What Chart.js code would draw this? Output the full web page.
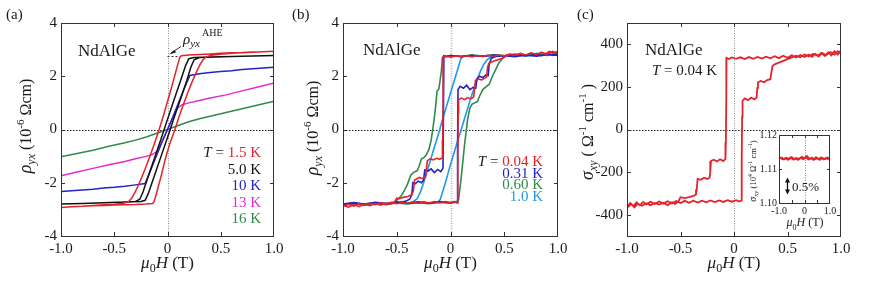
<!DOCTYPE html>
<html>
<head>
<meta charset="utf-8">
<script src="https://cdn.jsdelivr.net/npm/chart.js@4.4.1/dist/chart.umd.min.js"></script>
<style>
  html, body { margin: 0; padding: 0; background: #fff; }
  #wrap { position: relative; width: 872px; height: 287px; overflow: hidden; }
  canvas { position: absolute; top: 0; }
</style>
</head>
<body>
<div id="wrap">
  <canvas id="ca" width="288" height="287" style="left:0"></canvas>
  <canvas id="cb" width="287" height="287" style="left:288px"></canvas>
  <canvas id="cc" width="297" height="287" style="left:575px"></canvas>
  <canvas id="ci" width="105" height="105" style="left:735px;top:125px"></canvas>
</div>
<script>
// ---- tick values / labels ----
const fieldTicks = [-1, -0.5, 0, 0.5, 1];
const fieldLabels = ['-1.0', '-0.5', '0', '0.5', '1.0'];
const rhoTicks = [-4, -2, 0, 2, 4];
const rhoLabels = ['-4', '-2', '0', '2', '4'];
const sigmaTicks = [-400, -200, 0, 200, 400];
const sigmaLabels = ['-400', '-200', '0', '200', '400'];
const insetXTicks = [-1, 0, 1];
const insetXLabels = ['-1.0', '0', '1.0'];
const insetYTicks = [1.10, 1.11, 1.12];
const insetYLabels = ['1.10', '1.11', '1.12'];

// ---- (a) rho_yx, 1.5 K .. 16 K  [mu0H (T), rho (1e-6 Ohm cm)] ----
const a15Down = [[1,2.94],[0.9,2.92],[0.8,2.91],[0.7,2.89],[0.6,2.88],[0.5,2.86],[0.4,2.84],[0.3,2.82],[0.2,2.8],[0.13,2.77],[0.115,2.7],[0.09,2.35],[0.05,1.75],[0,1.05],[-0.04,0.5],[-0.08,-0.02],[-0.12,-0.5],[-0.16,-0.95],[-0.2,-1.38],[-0.24,-1.78],[-0.28,-2.15],[-0.31,-2.4],[-0.34,-2.6],[-0.37,-2.72],[-0.42,-2.78],[-0.5,-2.81],[-0.6,-2.83],[-0.7,-2.85],[-0.8,-2.88],[-0.9,-2.9],[-1,-2.93]];
const a15Up = [[-1,-2.93],[-0.9,-2.9],[-0.8,-2.88],[-0.7,-2.86],[-0.6,-2.85],[-0.5,-2.84],[-0.4,-2.83],[-0.3,-2.82],[-0.2,-2.8],[-0.14,-2.78],[-0.125,-2.7],[-0.1,-2.35],[-0.06,-1.75],[-0.02,-1.1],[0.02,-0.55],[0.07,0],[0.11,0.5],[0.15,0.95],[0.19,1.38],[0.23,1.78],[0.27,2.15],[0.3,2.4],[0.33,2.6],[0.36,2.72],[0.41,2.79],[0.5,2.83],[0.6,2.86],[0.7,2.88],[0.8,2.9],[0.9,2.92],[1,2.94]];
const a5Down = [[1,2.78],[0.8,2.76],[0.6,2.74],[0.4,2.72],[0.25,2.7],[0.2,2.66],[0.17,2.4],[0.12,1.8],[0.06,1.1],[0,0.38],[-0.06,-0.35],[-0.12,-1.05],[-0.18,-1.75],[-0.23,-2.35],[-0.26,-2.62],[-0.3,-2.7],[-0.45,-2.73],[-0.6,-2.75],[-0.8,-2.78],[-1,-2.8]];
const a5Up = [[-1,-2.8],[-0.8,-2.78],[-0.6,-2.75],[-0.4,-2.72],[-0.25,-2.7],[-0.21,-2.66],[-0.18,-2.4],[-0.12,-1.7],[-0.06,-1.0],[0,-0.3],[0.06,0.42],[0.12,1.12],[0.18,1.82],[0.22,2.35],[0.25,2.62],[0.3,2.7],[0.45,2.72],[0.6,2.74],[0.8,2.76],[1,2.78]];
const a10 = [[-1,-2.33],[-0.9,-2.3],[-0.8,-2.27],[-0.7,-2.24],[-0.6,-2.2],[-0.5,-2.17],[-0.4,-2.13],[-0.3,-2.08],[-0.21,-2.03],[-0.16,-1.55],[-0.1,-0.95],[-0.05,-0.45],[0,0],[0.05,0.47],[0.1,0.97],[0.16,1.57],[0.21,2.03],[0.3,2.09],[0.4,2.14],[0.5,2.18],[0.6,2.21],[0.7,2.25],[0.8,2.28],[0.9,2.31],[1,2.34]];
const a13 = [[-1,-1.74],[-0.85,-1.6],[-0.7,-1.46],[-0.55,-1.32],[-0.4,-1.2],[-0.3,-1.1],[-0.2,-1.01],[-0.14,-0.93],[-0.09,-0.8],[-0.05,-0.45],[0,0],[0.05,0.45],[0.09,0.8],[0.14,0.93],[0.2,1.0],[0.3,1.09],[0.4,1.18],[0.55,1.3],[0.7,1.45],[0.85,1.6],[1,1.75]];
const a16 = [[-1,-1.02],[-0.85,-0.9],[-0.7,-0.78],[-0.55,-0.63],[-0.4,-0.5],[-0.3,-0.4],[-0.2,-0.28],[-0.1,-0.14],[0,0],[0.1,0.15],[0.2,0.29],[0.3,0.4],[0.4,0.5],[0.55,0.64],[0.7,0.78],[0.85,0.92],[1,1.06]];

// ---- (b) rho_yx, 0.04 K .. 1.0 K ----
const b004Down = [[1,2.95],[0.96,2.86],[0.92,2.93],[0.88,2.83],[0.84,2.9],[0.8,2.81],[0.75,2.87],[0.7,2.8],[0.65,2.84],[0.6,2.78],[0.55,2.83],[0.5,2.77],[0.45,2.8],[0.4,2.75],[0.35,2.79],[0.3,2.74],[0.25,2.78],[0.2,2.73],[0.15,2.77],[0.1,2.73],[0.05,2.76],[0,2.72],[-0.04,2.75],[-0.065,2.73],[-0.068,1.2],[-0.072,-0.4],[-0.075,-1.05],[-0.1,-1.12],[-0.13,-1.08],[-0.16,-1.14],[-0.19,-1.1],[-0.215,-1.17],[-0.225,-1.5],[-0.232,-1.78],[-0.26,-1.84],[-0.29,-1.8],[-0.32,-1.87],[-0.335,-1.9],[-0.345,-2.3],[-0.36,-2.45],[-0.4,-2.52],[-0.44,-2.55],[-0.48,-2.6],[-0.5,-2.58],[-0.52,-2.72],[-0.56,-2.8],[-0.6,-2.76],[-0.65,-2.84],[-0.7,-2.78],[-0.75,-2.86],[-0.8,-2.8],[-0.85,-2.9],[-0.9,-2.82],[-0.95,-2.92],[-1,-2.84]];
const b004Up = [[-1,-2.9],[-0.95,-2.8],[-0.9,-2.88],[-0.85,-2.78],[-0.8,-2.84],[-0.75,-2.76],[-0.7,-2.82],[-0.65,-2.75],[-0.6,-2.8],[-0.55,-2.74],[-0.5,-2.79],[-0.45,-2.73],[-0.4,-2.78],[-0.35,-2.72],[-0.3,-2.77],[-0.25,-2.72],[-0.2,-2.76],[-0.15,-2.71],[-0.1,-2.75],[-0.05,-2.71],[0,-2.74],[0.04,-2.71],[0.065,-2.74],[0.068,-1.0],[0.072,0.6],[0.075,1.12],[0.1,1.18],[0.13,1.12],[0.16,1.2],[0.19,1.15],[0.215,1.22],[0.225,1.55],[0.232,1.85],[0.26,1.9],[0.29,1.86],[0.32,1.93],[0.335,1.96],[0.345,2.35],[0.36,2.5],[0.4,2.56],[0.44,2.62],[0.48,2.68],[0.52,2.76],[0.56,2.83],[0.6,2.78],[0.65,2.86],[0.7,2.8],[0.75,2.88],[0.8,2.82],[0.85,2.9],[0.9,2.83],[0.95,2.93],[1,2.86]];
const b031Down = [[1,2.84],[0.95,2.78],[0.9,2.85],[0.85,2.77],[0.8,2.82],[0.7,2.76],[0.6,2.81],[0.5,2.75],[0.4,2.8],[0.3,2.74],[0.2,2.79],[0.1,2.74],[0,2.78],[-0.04,2.74],[-0.062,2.77],[-0.066,0.5],[-0.07,-1.45],[-0.09,-1.58],[-0.12,-1.5],[-0.15,-1.62],[-0.18,-1.48],[-0.21,-1.56],[-0.24,-1.52],[-0.25,-1.9],[-0.27,-2.0],[-0.3,-1.94],[-0.33,-2.04],[-0.35,-2.0],[-0.36,-2.45],[-0.38,-2.62],[-0.42,-2.7],[-0.5,-2.74],[-0.6,-2.79],[-0.7,-2.74],[-0.8,-2.82],[-0.9,-2.76],[-1,-2.84]];
const b031Up = [[-1,-2.8],[-0.9,-2.74],[-0.8,-2.8],[-0.7,-2.73],[-0.6,-2.78],[-0.5,-2.72],[-0.4,-2.77],[-0.3,-2.72],[-0.2,-2.76],[-0.1,-2.71],[0,-2.75],[0.04,-2.71],[0.062,-2.76],[0.066,-0.5],[0.07,1.5],[0.09,1.62],[0.12,1.55],[0.15,1.66],[0.18,1.5],[0.21,1.58],[0.235,1.55],[0.245,1.9],[0.27,2.0],[0.3,1.95],[0.33,2.05],[0.35,2.02],[0.36,2.45],[0.38,2.68],[0.42,2.74],[0.5,2.77],[0.6,2.73],[0.7,2.8],[0.8,2.75],[0.9,2.82],[1,2.78]];
const b060Down = [[1,2.86],[0.9,2.8],[0.8,2.85],[0.7,2.79],[0.6,2.83],[0.5,2.77],[0.4,2.81],[0.3,2.76],[0.2,2.8],[0.1,2.75],[0,2.78],[-0.05,2.74],[-0.075,2.7],[-0.085,2.2],[-0.1,1.75],[-0.11,1.5],[-0.125,1.45],[-0.135,1.0],[-0.15,0.45],[-0.165,0],[-0.18,-0.4],[-0.2,-0.75],[-0.225,-0.95],[-0.245,-1.05],[-0.27,-1.1],[-0.29,-1.35],[-0.31,-1.55],[-0.34,-1.6],[-0.37,-1.72],[-0.4,-2.05],[-0.43,-2.3],[-0.46,-2.5],[-0.49,-2.62],[-0.52,-2.75],[-0.6,-2.8],[-0.7,-2.76],[-0.8,-2.83],[-0.9,-2.78],[-1,-2.86]];
const b060Up = [[-1,-2.85],[-0.9,-2.79],[-0.8,-2.84],[-0.7,-2.77],[-0.6,-2.82],[-0.5,-2.76],[-0.4,-2.8],[-0.3,-2.75],[-0.2,-2.79],[-0.1,-2.74],[0,-2.77],[0.05,-2.73],[0.075,-2.65],[0.085,-2.3],[0.1,-1.8],[0.115,-1.2],[0.13,-0.6],[0.145,-0.1],[0.16,0.4],[0.18,0.8],[0.2,0.95],[0.225,1.0],[0.25,1.05],[0.27,1.25],[0.3,1.5],[0.33,1.6],[0.36,1.7],[0.39,2.0],[0.42,2.25],[0.45,2.5],[0.48,2.65],[0.52,2.78],[0.6,2.82],[0.7,2.78],[0.8,2.85],[0.9,2.8],[1,2.87]];
const b10Down = [[1,2.83],[0.9,2.78],[0.8,2.82],[0.7,2.77],[0.6,2.8],[0.5,2.76],[0.4,2.79],[0.3,2.75],[0.2,2.78],[0.12,2.74],[0.095,2.65],[0.07,2.3],[0.04,1.9],[0.01,1.5],[-0.02,1.1],[-0.05,0.7],[-0.08,0.3],[-0.1,0],[-0.13,-0.4],[-0.16,-0.8],[-0.19,-1.2],[-0.22,-1.6],[-0.25,-2.0],[-0.28,-2.35],[-0.31,-2.6],[-0.35,-2.72],[-0.4,-2.78],[-0.5,-2.75],[-0.6,-2.8],[-0.7,-2.76],[-0.8,-2.81],[-0.9,-2.77],[-1,-2.82]];
const b10Up = [[-1,-2.8],[-0.9,-2.76],[-0.8,-2.81],[-0.7,-2.75],[-0.6,-2.79],[-0.5,-2.74],[-0.4,-2.78],[-0.3,-2.74],[-0.2,-2.77],[-0.12,-2.73],[-0.095,-2.62],[-0.07,-2.3],[-0.04,-1.9],[-0.01,-1.45],[0.02,-1.05],[0.05,-0.65],[0.08,-0.25],[0.1,0],[0.13,0.4],[0.16,0.8],[0.19,1.2],[0.22,1.55],[0.25,1.9],[0.28,2.2],[0.31,2.45],[0.34,2.62],[0.38,2.74],[0.45,2.78],[0.55,2.76],[0.65,2.81],[0.75,2.77],[0.85,2.82],[1,2.8]];

// ---- (c) sigma_xy at 0.04 K  [mu0H (T), sigma (1/(Ohm cm))] ----
const cDown = [[1,372],[0.97,352],[0.94,368],[0.91,348],[0.88,362],[0.85,345],[0.82,358],[0.79,343],[0.76,355],[0.73,341],[0.7,352],[0.66,340],[0.62,350],[0.58,338],[0.54,348],[0.5,337],[0.46,346],[0.42,335],[0.38,344],[0.34,334],[0.3,342],[0.26,333],[0.22,341],[0.18,332],[0.14,340],[0.1,331],[0.06,339],[0.02,332],[-0.02,338],[-0.05,331],[-0.07,336],[-0.072,150],[-0.076,-60],[-0.08,-138],[-0.1,-148],[-0.13,-140],[-0.16,-150],[-0.19,-142],[-0.215,-148],[-0.222,-200],[-0.228,-226],[-0.25,-232],[-0.28,-226],[-0.31,-236],[-0.34,-232],[-0.348,-280],[-0.355,-305],[-0.38,-312],[-0.42,-318],[-0.46,-322],[-0.5,-318],[-0.52,-338],[-0.55,-350],[-0.58,-342],[-0.62,-355],[-0.66,-344],[-0.7,-352],[-0.74,-345],[-0.78,-356],[-0.82,-346],[-0.86,-358],[-0.9,-348],[-0.93,-366],[-0.96,-350],[-1,-368]];
const cUp = [[-1,-362],[-0.97,-345],[-0.94,-360],[-0.91,-342],[-0.88,-356],[-0.85,-340],[-0.82,-352],[-0.78,-339],[-0.74,-350],[-0.7,-338],[-0.66,-348],[-0.62,-337],[-0.58,-347],[-0.54,-336],[-0.5,-345],[-0.46,-335],[-0.42,-344],[-0.38,-334],[-0.34,-343],[-0.3,-334],[-0.26,-342],[-0.22,-333],[-0.18,-341],[-0.14,-333],[-0.1,-340],[-0.06,-332],[-0.02,-339],[0.02,-332],[0.05,-338],[0.07,-333],[0.072,-150],[0.076,60],[0.08,135],[0.1,146],[0.13,138],[0.16,150],[0.19,141],[0.212,150],[0.218,195],[0.224,222],[0.25,228],[0.28,222],[0.31,232],[0.34,236],[0.35,270],[0.36,298],[0.38,306],[0.42,314],[0.46,322],[0.5,330],[0.54,338],[0.58,346],[0.62,339],[0.66,352],[0.7,343],[0.74,356],[0.78,346],[0.82,360],[0.86,349],[0.9,364],[0.94,352],[0.97,368],[1,356]];
// inset: longitudinal conductivity (1e4 / (Ohm cm))
const insetSigma = [[-1,1.1131],[-0.9,1.1134],[-0.8,1.1128],[-0.7,1.1133],[-0.6,1.1129],[-0.5,1.1135],[-0.4,1.1128],[-0.3,1.1132],[-0.2,1.1130],[-0.1,1.1136],[0,1.1131],[0.1,1.1138],[0.2,1.1129],[0.3,1.1133],[0.4,1.1128],[0.5,1.1132],[0.6,1.1127],[0.7,1.1132],[0.8,1.1129],[0.9,1.1134],[1,1.1130],
  [0.95,1.1127],[0.85,1.1133],[0.75,1.1128],[0.65,1.1134],[0.55,1.1129],[0.45,1.1135],[0.35,1.1127],[0.25,1.1132],[0.15,1.1128],[0.05,1.1135],[-0.05,1.1128],[-0.15,1.1133],[-0.25,1.1127],[-0.35,1.1132],[-0.45,1.1128],[-0.55,1.1134],[-0.65,1.1127],[-0.75,1.1132],[-0.85,1.1128],[-0.95,1.1133]];

const RED = '#e3232c', BLACK = '#111111', BLUE = '#2323c4', MAGENTA = '#e22ccb', GREEN = '#2e8c48', LBLUE = '#1f9ae6', TXT = '#1a1a1a';
const SERIF = '"Liberation Serif", "Times New Roman", serif';

function pts(arr) { return arr.map(p => ({ x: p[0], y: p[1] })); }

function line(arr, color, w) {
    return { data: pts(arr), borderColor: color, borderWidth: w, showLine: true, pointRadius: 0, tension: 0, fill: false };
}

function axis(min, max, ticks, labels, size, pad, fs) {
    return {
        type: 'linear', min: min, max: max,
        afterBuildTicks: s => { s.ticks = ticks.map(v => ({ value: v })); },
        afterFit: s => { if (s.isHorizontal()) s.height = size; else s.width = size; },
        grid: { display: false, drawTicks: false },
        border: { display: false },
        ticks: { autoSkip: false, maxRotation: 0, padding: pad, color: TXT, font: { family: SERIF, size: fs },
                 callback: (v, i) => labels[i] }
    };
}

// draw a run of text pieces: [text, size, italic, dy, color]
function rich(ctx, parts, x, y, align, rot) {
    const f = p => (p[2] ? 'italic ' : '') + p[1] + 'px ' + SERIF;
    let w = 0;
    parts.forEach(p => { ctx.font = f(p); w += ctx.measureText(p[0]).width; });
    ctx.save();
    ctx.translate(x, y);
    if (rot) ctx.rotate(-Math.PI / 2);
    let cx = align === 'center' ? -w / 2 : (align === 'right' ? -w : 0);
    ctx.textAlign = 'left';
    ctx.textBaseline = 'alphabetic';
    parts.forEach(p => {
        ctx.font = f(p);
        ctx.fillStyle = p[4] || TXT;
        ctx.fillText(p[0], cx, p[3] || 0);
        cx += ctx.measureText(p[0]).width;
    });
    ctx.restore();
}

function decor(cfg) {
    return {
        id: 'decor',
        beforeDatasetsDraw(chart) {
            const ctx = chart.ctx, a = chart.chartArea;
            const px = Math.round(chart.scales.x.getPixelForValue(0)) + 0.5;
            ctx.save();
            if (cfg.hLine !== false) {
                const py = Math.round(chart.scales.y.getPixelForValue(0)) + 0.5;
                ctx.strokeStyle = '#222';
                ctx.lineWidth = 1;
                ctx.setLineDash([1.5, 1.5]);
                ctx.beginPath(); ctx.moveTo(a.left, py); ctx.lineTo(a.right, py); ctx.stroke();
            }
            ctx.strokeStyle = cfg.vColor || '#8a8a8a';
            ctx.lineWidth = cfg.vWidth || 1;
            ctx.setLineDash([1, 1.5]);
            ctx.beginPath(); ctx.moveTo(px, a.top); ctx.lineTo(px, a.bottom); ctx.stroke();
            ctx.restore();
        },
        afterDraw(chart) {
            const ctx = chart.ctx, a = chart.chartArea, sx = chart.scales.x, sy = chart.scales.y;
            const len = cfg.tick || 4;
            ctx.save();
            ctx.strokeStyle = '#333';
            ctx.lineWidth = 1;
            ctx.strokeRect(a.left + 0.5, a.top + 0.5, a.right - a.left - 1, a.bottom - a.top);
            ctx.beginPath();
            cfg.xt.forEach(v => {
                const p = Math.round(sx.getPixelForValue(v)) + 0.5;
                ctx.moveTo(p, a.bottom); ctx.lineTo(p, a.bottom - len);
                ctx.moveTo(p, a.top); ctx.lineTo(p, a.top + len);
            });
            cfg.yt.forEach(v => {
                const p = Math.round(sy.getPixelForValue(v)) + 0.5;
                ctx.moveTo(a.left, p); ctx.lineTo(a.left + len, p);
                ctx.moveTo(a.right, p); ctx.lineTo(a.right - len, p);
            });
            ctx.stroke();
            ctx.restore();
            if (cfg.text) cfg.text(ctx, chart, sx, sy);
        }
    };
}

function makeChart(id, datasets, xs, ys, pad, cfg) {
    return new Chart(document.getElementById(id), {
        type: 'scatter',
        data: { datasets: datasets },
        options: {
            responsive: false, animation: false, events: [],
            layout: { padding: pad },
            plugins: { legend: { display: false }, tooltip: { enabled: false } },
            scales: { x: xs, y: ys }
        },
        plugins: [decor(cfg)]
    });
}

const muH = (x, y, s) => [['μ', s, true], ['0', Math.round(s * 0.7), false, 4], ['H', s, true], [' (T)', s]];

// ---- panel (a) ----
makeChart('ca', [
    line(a15Down.concat(a15Up), RED, 1.5),
    line(a5Down.concat(a5Up), BLACK, 1.5),
    line(a10, BLUE, 1.5),
    line(a13, MAGENTA, 1.5),
    line(a16, GREEN, 1.5)
], axis(-1, 1, fieldTicks, fieldLabels, 51, 4, 15), axis(-4, 4, rhoTicks, rhoLabels, 61, 4, 15),
{ top: 23, right: 14, left: 0, bottom: 0 },
{ xt: [-0.5, 0, 0.5], yt: [-2, 0, 2], text: (ctx, chart, sx, sy) => {
    rich(ctx, [['(a)', 15]], 6, 19, 'left');
    rich(ctx, [['NdAlGe', 17]], 78, 56, 'left');
    // rho_yx^AHE marker
    const yA = Math.round(sy.getPixelForValue(2.76)) + 0.5;
    ctx.save();
    ctx.strokeStyle = '#333'; ctx.lineWidth = 1; ctx.setLineDash([2, 2]);
    ctx.beginPath(); ctx.moveTo(sx.getPixelForValue(0), yA); ctx.lineTo(sx.getPixelForValue(0.115), yA); ctx.stroke();
    ctx.setLineDash([]);
    ctx.beginPath(); ctx.moveTo(181, 46.5); ctx.lineTo(171, 53); ctx.stroke();
    ctx.fillStyle = '#222';
    ctx.beginPath(); ctx.moveTo(169, 54.5); ctx.lineTo(174.5, 49.8); ctx.lineTo(176, 52.5); ctx.closePath(); ctx.fill();
    ctx.restore();
    rich(ctx, [['ρ', 15, true], ['yx', 11, true, 3]], 183, 44, 'left');
    rich(ctx, [['AHE', 10]], 202, 36, 'left');
    // legend
    const L = 261;
    rich(ctx, [['T', 15, true], [' = ', 15], ['1.5 K', 15, false, 0, RED]], L, 157, 'right');
    rich(ctx, [['5.0 K', 15, false, 0, BLACK]], L, 173.5, 'right');
    rich(ctx, [['10 K', 15, false, 0, BLUE]], L, 190, 'right');
    rich(ctx, [['13 K', 15, false, 0, MAGENTA]], L, 206.5, 'right');
    rich(ctx, [['16 K', 15, false, 0, GREEN]], L, 223, 'right');
    rich(ctx, [['ρ', 18, true], ['yx', 12, true, 4], [' (10', 16], ['-6', 11, false, -7], [' Ωcm)', 16]], 31, 126, 'center', true);
    rich(ctx, muH(0, 0, 17), 167.5, 268, 'center');
} });

// ---- panel (b) ----
makeChart('cb', [
    line(b004Down.concat(b004Up), RED, 1.6),
    line(b031Down.concat(b031Up), BLUE, 1.6),
    line(b060Down.concat(b060Up), GREEN, 1.6),
    line(b10Down.concat(b10Up), LBLUE, 1.6)
], axis(-1, 1, fieldTicks, fieldLabels, 51, 4, 15), axis(-4, 4, rhoTicks, rhoLabels, 55, 4, 15),
{ top: 23, right: 17, left: 0, bottom: 0 },
{ xt: [-0.5, 0, 0.5], yt: [-2, 0, 2], vColor: '#b0b0b0', vWidth: 1.5, text: (ctx) => {
    rich(ctx, [['(b)', 15]], 4, 19, 'left');
    rich(ctx, [['NdAlGe', 17]], 75, 55, 'left');
    const L = 255;
    rich(ctx, [['T', 15, true], [' = ', 15], ['0.04 K', 15, false, 0, RED]], L, 166, 'right');
    rich(ctx, [['0.31 K', 15, false, 0, BLUE]], L, 177.7, 'right');
    rich(ctx, [['0.60 K', 15, false, 0, GREEN]], L, 189.4, 'right');
    rich(ctx, [['1.0 K', 15, false, 0, LBLUE]], L, 201, 'right');
    rich(ctx, [['ρ', 18, true], ['yx', 12, true, 4], [' (10', 16], ['-6', 11, false, -7], [' Ωcm)', 16]], 30, 128, 'center', true);
    rich(ctx, muH(0, 0, 17), 162.5, 268, 'center');
} });

// ---- panel (c) ----
makeChart('cc', [
    line(cDown.concat(cUp), RED, 1.8)
], axis(-1, 1, fieldTicks, fieldLabels, 51, 4, 15), axis(-500, 500, sigmaTicks, sigmaLabels, 52, 4, 15),
{ top: 23, right: 31, left: 0, bottom: 0 },
{ xt: [-0.5, 0, 0.5], yt: [-400, -200, 0, 200, 400], text: (ctx) => {
    rich(ctx, [['(c)', 15]], 2, 19, 'left');
    rich(ctx, [['NdAlGe', 17]], 70, 55, 'left');
    rich(ctx, [['T', 15, true], [' = 0.04 K', 15]], 77, 75, 'left');
    rich(ctx, [['σ', 18, true], ['xy', 12, true, 4], [' ( ', 16], ['Ω', 16], ['-1', 11, false, -7], [' cm', 16], ['-1', 11, false, -7], [' )', 16]], 18, 132, 'center', true);
    rich(ctx, muH(0, 0, 17), 159, 268, 'center');
} });

// ---- inset of (c) ----
makeChart('ci', [
    line(insetSigma.slice(0, 21), RED, 1.8),
    line(insetSigma.slice(21), RED, 1.8)
], axis(-1, 1, insetXTicks, insetXLabels, 27, 2, 10), axis(1.10, 1.12, insetYTicks, insetYLabels, 44, 2, 10),
{ top: 10, right: 10, left: 0, bottom: 0 },
{ xt: [-0.5, 0, 0.5], yt: [1.11], hLine: false, tick: 3, text: (ctx) => {
    rich(ctx, [['σ', 10, true], ['xy', 7, true, 2], [' (10', 8.5], ['4', 6, false, -4], [' Ω', 8.5], ['-1', 6, false, -4], [' cm', 8.5], ['-1', 6, false, -4], [')', 8.5]], 21, 46, 'center', true);
    rich(ctx, muH(0, 0, 12), 70, 101, 'center');
    rich(ctx, [['0.5%', 13]], 57, 66, 'left');
    ctx.save();
    ctx.strokeStyle = '#111'; ctx.fillStyle = '#111'; ctx.lineWidth = 1.3;
    ctx.beginPath(); ctx.moveTo(52.5, 56); ctx.lineTo(52.5, 66); ctx.stroke();
    ctx.beginPath(); ctx.moveTo(52.5, 52.5); ctx.lineTo(50, 57.5); ctx.lineTo(55, 57.5); ctx.closePath(); ctx.fill();
    ctx.beginPath(); ctx.moveTo(52.5, 69.5); ctx.lineTo(50, 64.5); ctx.lineTo(55, 64.5); ctx.closePath(); ctx.fill();
    ctx.restore();
} });
</script>
</body>
</html>
